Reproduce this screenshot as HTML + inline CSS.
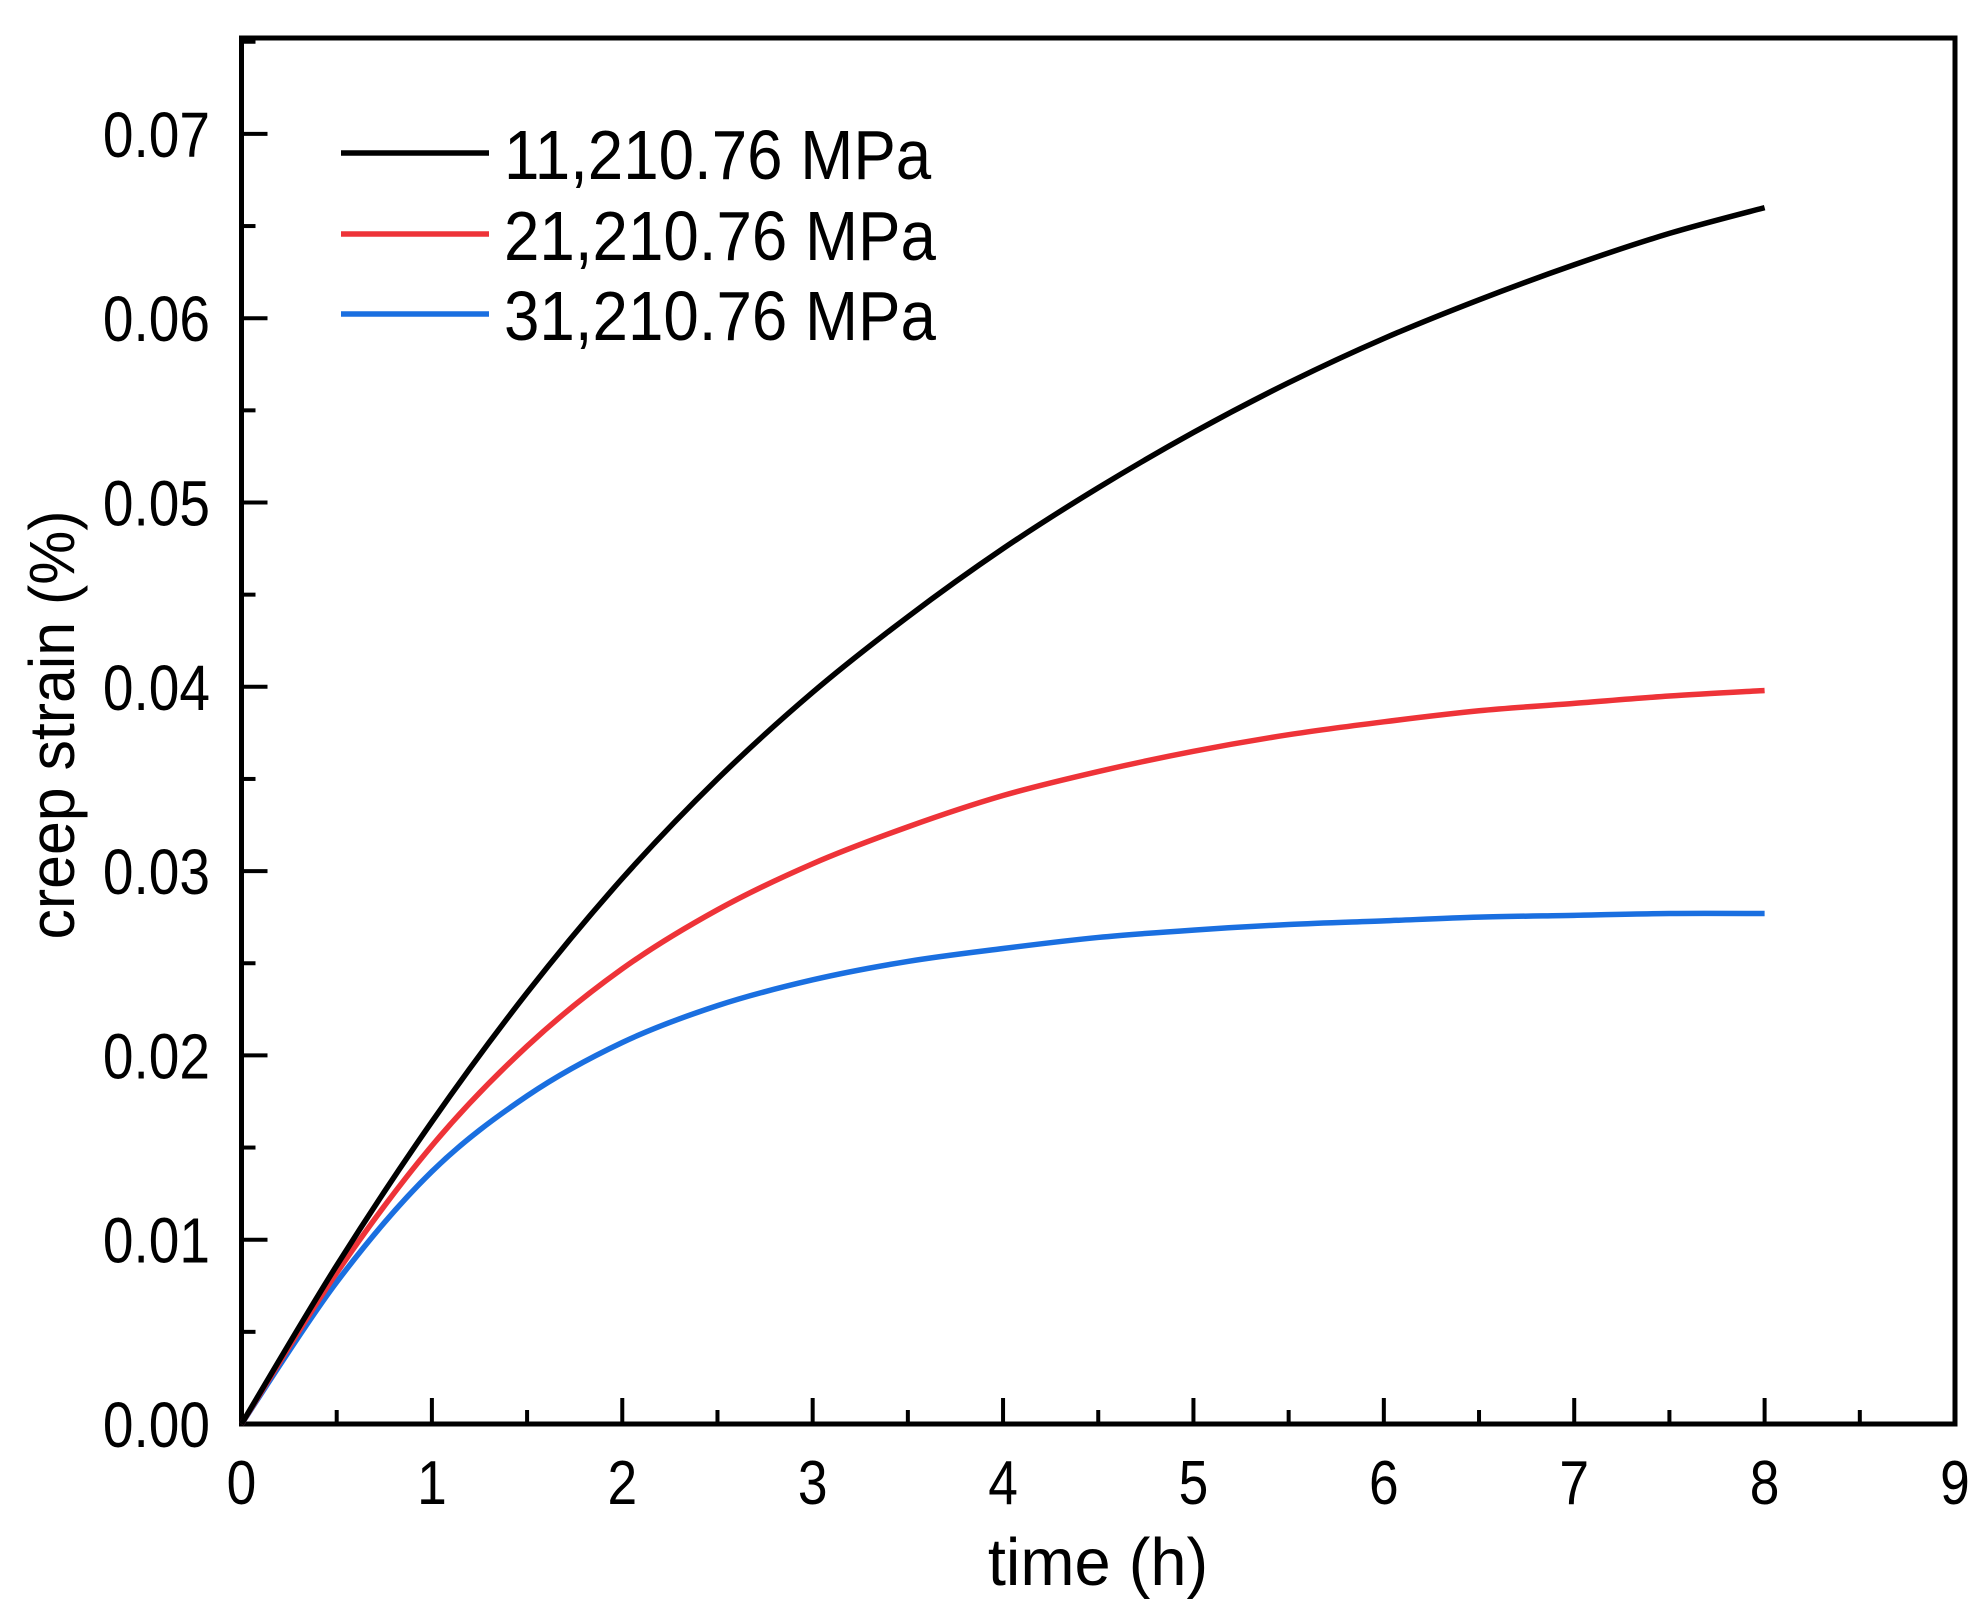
<!DOCTYPE html>
<html><head><meta charset="utf-8"><style>
body{margin:0;background:#fff}
svg{display:block;font-family:"Liberation Sans",Arial,sans-serif}
</style></head><body>
<svg id="chart" width="1983" height="1610" viewBox="0 0 1983 1610">
<g id="axes"></g>
<g id="series"></g>
<g id="legend"></g>
<text transform="translate(1098,1585) scale(0.97,1)" font-size="67" text-anchor="middle">time (h)</text>
<text transform="translate(74,725) rotate(-90) scale(0.95,1)" font-size="64" text-anchor="middle">creep strain (%)</text>
</svg>
<script>
const times=[0,0.5,1,1.5,2,2.5,3,3.5,4,4.5,5,5.5,6,6.5,7,7.5,8];
const seriesNames=["11,210.76 MPa","21,210.76 MPa","31,210.76 MPa"];
const seriesColors=["#000000","#ee3338","#1a6fe0"];
const blackValues=[0,0.0086,0.0164,0.0234,0.0296,0.0350,0.0397,0.0438,0.0475,0.0508,0.0538,0.0565,0.0589,0.0610,0.0629,0.0646,0.0660];
const redValues=[0,0.0082,0.0151,0.0205,0.0247,0.0279,0.0304,0.0324,0.0341,0.0354,0.0365,0.0374,0.0381,0.0387,0.0391,0.0395,0.0398];
const blueValues=[0,0.0077,0.0137,0.0178,0.0207,0.0227,0.0241,0.0251,0.0258,0.0264,0.0268,0.0271,0.0273,0.0275,0.0276,0.0277,0.0277];
const xTicks=[0,1,2,3,4,5,6,7,8,9];
const yTicks=[0,0.01,0.02,0.03,0.04,0.05,0.06,0.07];
const yTickLabels=["0.00","0.01","0.02","0.03","0.04","0.05","0.06","0.07"];

const L=241.5,R=1955,T=38,B=1424;
const x=v=>L+(R-L)*v/9;
const y=v=>B-v*18430;
const NS="http://www.w3.org/2000/svg";
function mk(tag,attrs,parent){const e=document.createElementNS(NS,tag);for(const k in attrs)e.setAttribute(k,attrs[k]);parent.appendChild(e);return e;}
const axes=document.getElementById('axes');
const frame=mk('rect',{x:L,y:T,width:R-L,height:B-T,fill:'none',stroke:'#000','stroke-width':5},axes);


for(let i=0;i<xTicks.length;i++){
  const v=xTicks[i];
  const t=mk('line',{x1:x(v),x2:x(v),y1:B,y2:B-26,stroke:'#000','stroke-width':4},axes);
  
  
  if(v<9){const m=mk('line',{x1:x(v+0.5),x2:x(v+0.5),y1:B,y2:B-14,stroke:'#000','stroke-width':4},axes);
  
  }
  const lb=mk('text',{transform:`translate(${x(v)},${B+80}) scale(0.86,1)`,'font-size':62,'text-anchor':'middle'},axes);
  lb.textContent=v;
  
  
}
for(let i=0;i<yTicks.length;i++){
  const v=yTicks[i];
  const t=mk('line',{x1:L,x2:L+26,y1:y(v),y2:y(v),stroke:'#000','stroke-width':4},axes);
  
  
  const m=mk('line',{x1:L,x2:L+14,y1:y(v+0.005),y2:y(v+0.005),stroke:'#000','stroke-width':4},axes);
  
  
  const lb=mk('text',{transform:`translate(210,${y(v)+23}) scale(0.86,1)`,'font-size':64,'text-anchor':'end'},axes);
  lb.textContent=yTickLabels[i];
  
  
}
function pathFor(vals){
  const p=vals.map((v,i)=>[x(times[i]),y(v)]);
  let d=`M${p[0][0]},${p[0][1]}`;
  for(let i=0;i<p.length-1;i++){
    const p0=p[i-1]||p[i],p1=p[i],p2=p[i+1],p3=p[i+2]||p2;
    const c1=[p1[0]+(p2[0]-p0[0])/6,p1[1]+(p2[1]-p0[1])/6];
    const c2=[p2[0]-(p3[0]-p1[0])/6,p2[1]-(p3[1]-p1[1])/6];
    d+=` C${c1[0]},${c1[1]} ${c2[0]},${c2[1]} ${p2[0]},${p2[1]}`;
  }
  return d;
}
const allVals=[blackValues,redValues,blueValues];
const names=['line-11210-mpa','line-21210-mpa','line-31210-mpa'];
const sg=document.getElementById('series');
for(let s=2;s>=0;s--){
  const pth=mk('path',{d:pathFor(allVals[s]),fill:'none',stroke:seriesColors[s],'stroke-width':5.5},sg);
  
  
}
const lg=document.getElementById('legend');
const ly=[153,234,314];
for(let s=0;s<3;s++){
  const ln=mk('line',{x1:341,x2:489,y1:ly[s],y2:ly[s],stroke:seriesColors[s],'stroke-width':5.5},lg);
  
  
  const tx=mk('text',{transform:`translate(504,${ly[s]+26}) scale(0.91,1)`,'font-size':70},lg);
  tx.textContent=seriesNames[s];
  
  
}
</script>
</body></html>
